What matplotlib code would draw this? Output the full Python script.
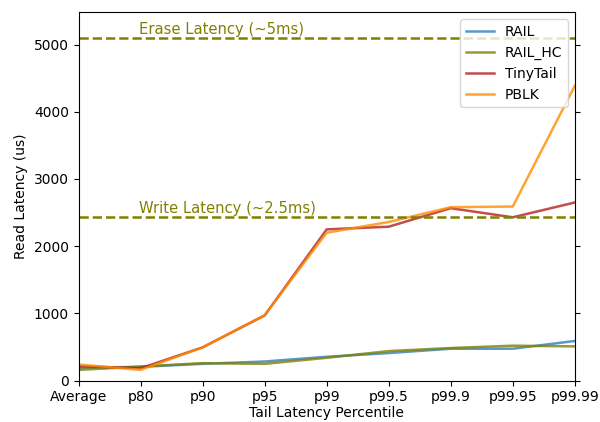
import numpy as np
import matplotlib
matplotlib.use("Agg")
import matplotlib.pyplot as plt

percentiles = ["Average", "p80", "p90", "p95", "p99", "p99.5", "p99.9", "p99.95", "p99.99"]

rail = [190, 205, 250, 285, 355, 410, 475, 475, 590]
rail_hc = [160, 210, 260, 250, 340, 440, 485, 520, 510]
tinytail = [215, 185, 495, 970, 2250, 2290, 2565, 2430, 2650]
pblk = [240, 160, 495, 975, 2200, 2360, 2580, 2590, 4385]

write_latency = 2440
erase_latency = 5100

x = np.arange(len(percentiles))

fig = plt.figure(figsize=(6, 4.22), dpi=100)
ax = fig.add_axes([0.131, 0.098, 0.827, 0.873])

ax.plot(x, rail, color="#2f7fc1", alpha=0.8, lw=1.8, label="RAIL")
ax.plot(x, rail_hc, color="#808000", alpha=0.8, lw=1.8, label="RAIL_HC")
ax.plot(x, tinytail, color="#b22222", alpha=0.8, lw=1.8, label="TinyTail")
ax.plot(x, pblk, color="#ff8c00", alpha=0.8, lw=1.8, label="PBLK")

# reference lines for flash write / erase latency
ax.axhline(write_latency, color="#808000", ls="--", lw=1.8)
ax.axhline(erase_latency, color="#808000", ls="--", lw=1.8)
ax.text(0.97, write_latency + 60, "Write Latency (~2.5ms)", color="#808000", fontsize=10.6)
ax.text(0.97, erase_latency + 60, "Erase Latency (~5ms)", color="#808000", fontsize=10.6)

ax.set_xticks(x)
ax.set_xticklabels(percentiles)
ax.set_xlim(0, len(percentiles) - 1)
ax.set_ylim(0, 5480)
ax.set_yticks([0, 1000, 2000, 3000, 4000, 5000])
ax.tick_params(right=True)
ax.set_xlabel("Tail Latency Percentile", labelpad=1)
ax.set_ylabel("Read Latency (us)")
ax.legend(loc="upper right", framealpha=0.8)

fig.savefig("out.png", dpi=100)
